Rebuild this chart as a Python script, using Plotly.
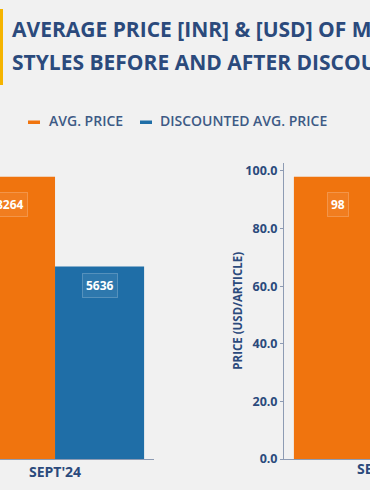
import plotly.graph_objects as go

# ---- data ----
categories = ["SEPT'24"]
series_names = ["AVG. PRICE", "DISCOUNTED AVG. PRICE"]
inr_avg = [8264]
inr_disc = [5636]
usd_avg = [98]
usd_disc = [67]
usd_ticks = [0, 20, 40, 60, 80, 100]
title_lines = ["AVERAGE PRICE [INR] &amp; [USD] OF MEN'S", "STYLES BEFORE AND AFTER DISCOUNTS"]
yaxis_title = "PRICE (USD/ARTICLE)"

ORANGE = "#F0740E"
BLUE = "#1F6EA7"
NAVY = "#2B4A7C"
LEG = "#3D5A85"
BG = "#F1F1F1"
FONT = "Open Sans"

W, H = 370, 490
fig = go.Figure()

# left (INR) subplot
fig.add_trace(go.Bar(x=categories, y=inr_avg, name=series_names[0], marker_color=ORANGE,
                     marker_line_width=0, xaxis="x", yaxis="y", showlegend=False, hoverinfo="skip"))
fig.add_trace(go.Bar(x=categories, y=inr_disc, name=series_names[1], marker_color=BLUE,
                     marker_line_width=0, xaxis="x", yaxis="y", showlegend=False, hoverinfo="skip"))
# right (USD) subplot
fig.add_trace(go.Bar(x=categories, y=usd_avg, name=series_names[0], marker_color=ORANGE,
                     marker_line_width=0, xaxis="x2", yaxis="y2", showlegend=False, hoverinfo="skip"))
fig.add_trace(go.Bar(x=categories, y=usd_disc, name=series_names[1], marker_color=BLUE,
                     marker_line_width=0, xaxis="x2", yaxis="y2", showlegend=False, hoverinfo="skip"))

bargap = 0.1
half = (1 - bargap) / 4  # center offset of each bar within group

ydom = [31 / H, 327.4 / H]
axis_line = "#8D9BB3"

fig.update_layout(
    width=W, height=H,
    paper_bgcolor=BG, plot_bgcolor=BG,
    margin=dict(l=0, r=0, t=0, b=0, pad=0),
    barmode="group", bargap=bargap, bargroupgap=0,
    showlegend=False,
    font=dict(family=FONT, color=NAVY),
    xaxis=dict(domain=[0, 154 / W], range=[-0.278, 0.5], showgrid=False, zeroline=False,
               showline=True, linecolor=axis_line, linewidth=1, ticks="", automargin=False,
               tickfont=dict(family=FONT, size=14, color=NAVY, weight="bold"), anchor="y"),
    yaxis=dict(domain=ydom, range=[0, max(inr_avg + inr_disc) * 1.05], showgrid=False,
               zeroline=False, showline=False, showticklabels=False, anchor="x",
               automargin=False),
    xaxis2=dict(domain=[284 / W, 1], range=[-0.5, -0.0657], showgrid=False, zeroline=False,
                showline=True, linecolor=axis_line, linewidth=1, ticks="", showticklabels=False,
                anchor="y2", automargin=False),
    yaxis2=dict(domain=ydom, range=[0, max(usd_avg + usd_disc) * 1.05], showgrid=False,
                zeroline=False, showline=True, linecolor=axis_line, linewidth=1,
                tickvals=usd_ticks, tickformat=".1f", ticks="outside", ticklen=3,
                tickcolor=axis_line, automargin=False,
                tickfont=dict(family=FONT, size=12.5, color=NAVY, weight="bold"),
                title=dict(text=yaxis_title, standoff=0,
                           font=dict(family=FONT, size=11.5, color=NAVY, weight="bold")),
                anchor="x2"),
)

annotations = []
# title
for i, line in enumerate(title_lines):
    annotations.append(dict(text=line, xref="paper", yref="paper", x=10 / W,
                            y=1 - (29 + 33 * i) / H, xanchor="left", yanchor="middle",
                            showarrow=False,
                            font=dict(family=FONT, size=21, color=NAVY, weight="bold")))
# legend
leg = [(series_names[0], ORANGE, 28, 47), (series_names[1], BLUE, 140, 158)]
shapes = [dict(type="rect", xref="paper", yref="paper", x0=0, x1=3 / W,
               y0=1 - 85 / H, y1=1 - 9 / H, fillcolor="#F5B400", line_width=0)]
for name, col, sx, tx in leg:
    shapes.append(dict(type="rect", xref="paper", yref="paper", x0=sx / W, x1=(sx + 12) / W,
                       y0=1 - 124 / H, y1=1 - 120.5 / H, fillcolor=col, line_width=0))
    annotations.append(dict(text=name, xref="paper", yref="paper", x=tx / W, y=1 - 120 / H,
                            xanchor="left", yanchor="middle", showarrow=False,
                            font=dict(family=FONT, size=14, color=LEG, weight=600)))

# value labels
def vlabel(xref, yref, xpos, val):
    return dict(text=str(val), xref=xref, yref=yref, x=xpos, y=val * 0.9,
                xanchor="center", yanchor="middle", showarrow=False,
                font=dict(family=FONT, size=12, color="white", weight="bold"),
                bgcolor="rgba(255,255,255,0.07)", bordercolor="rgba(255,255,255,0.22)",
                borderwidth=1, borderpad=3)

annotations.append(vlabel("x", "y", -half, inr_avg[0]))
annotations.append(vlabel("x", "y", half, inr_disc[0]))
annotations.append(vlabel("x2", "y2", -half, usd_avg[0]))
# right category label (falls partly outside the view)
annotations.append(dict(text=categories[0], xref="paper", yref="paper", x=383 / W,
                        y=1 - 468 / H, xanchor="center", yanchor="middle", showarrow=False,
                        font=dict(family=FONT, size=14, color=NAVY, weight="bold")))

fig.update_layout(annotations=annotations, shapes=shapes)
fig.write_html("out.html", config=dict(displayModeBar=False),
               post_script="document.body.style.margin='0';document.body.style.overflow='hidden';")
